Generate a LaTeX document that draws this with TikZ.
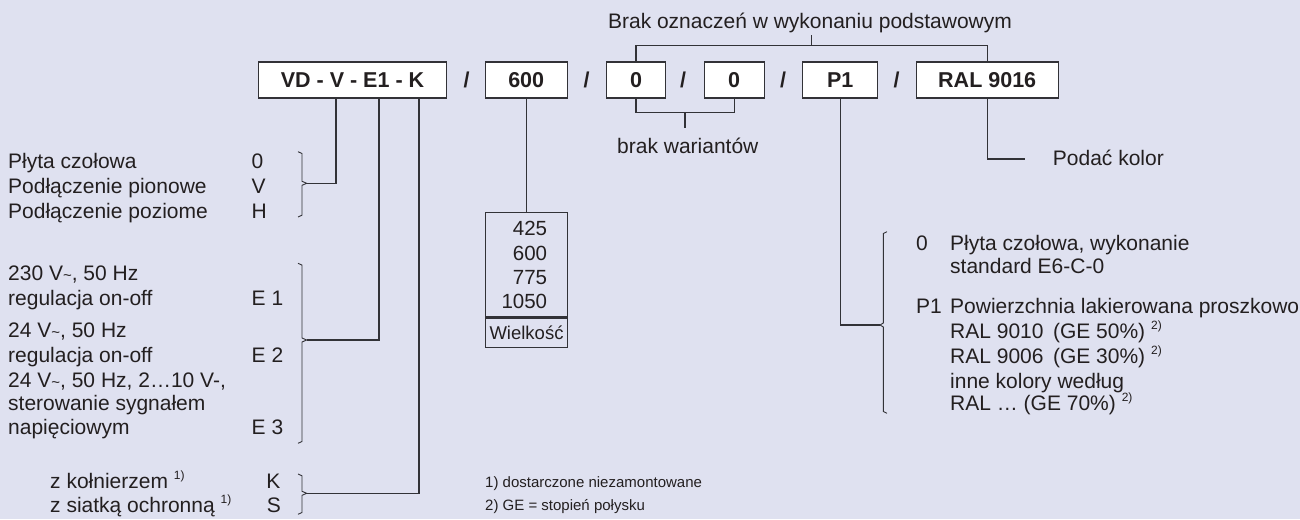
\documentclass[tikz,border=0pt]{standalone}
\usepackage{fontspec}
\setmainfont{Liberation Sans}
\definecolor{bg}{RGB}{223,225,240}
\definecolor{ink}{RGB}{35,31,32}
\definecolor{ln}{RGB}{50,50,55}
\newcommand\supx[1]{\raisebox{0.42em}{\fontsize{12}{12}\selectfont #1}}
\newcommand\tld{{\fontsize{15}{15}\selectfont\textasciitilde}}
\begin{document}
\begin{tikzpicture}[x=1pt,y=-1pt,
  codebox/.style={draw=ln, line width=1.1pt, fill=white, minimum height=36pt, inner sep=0pt, font=\fontsize{21.5}{24}\selectfont\bfseries, text=ink},
  slash/.style={font=\fontsize{21.5}{24}\selectfont\bfseries, text=ink, inner sep=0pt},
  txt/.style={anchor=base west, inner sep=0pt, font=\fontsize{21}{25}\selectfont, text=ink},
  txte/.style={anchor=base east, inner sep=0pt, font=\fontsize{21}{25}\selectfont, text=ink},
  num/.style={anchor=base east, inner sep=0pt, font=\fontsize{20.5}{24}\selectfont, text=ink},
  foot/.style={anchor=base west, inner sep=0pt, font=\fontsize{15}{18}\selectfont, text=ink},
  conn/.style={draw=ln, line width=1.1pt},
]
\fill[bg] (0,0) rectangle (1300,519);
\useasboundingbox (0,0) rectangle (1300,519);

% code row
\node[codebox, minimum width=188.4pt] (vd) at (352.5,80) {VD - V - E1 - K};
\node[slash] (s1) at (466.7,80) {/};
\node[codebox, minimum width=82.3pt] (n600) at (526.2,80) {600};
\node[slash] (s2) at (586.7,80) {/};
\node[codebox, minimum width=59pt] (za) at (636,80) {0};
\node[slash] (s3) at (683,80) {/};
\node[codebox, minimum width=59.7pt] (zb) at (734.2,80) {0};
\node[slash] (s4) at (783,80) {/};
\node[codebox, minimum width=75pt] (p1) at (840.2,80) {P1};
\node[slash] (s5) at (896.7,80) {/};
\node[codebox, minimum width=142.3pt] (ral) at (987.2,80) {RAL 9016};

% top label
\node[anchor=base, inner sep=0pt, font=\fontsize{21}{25}\selectfont, text=ink] (brak) at (810,28.3) {Brak oznaczeń w wykonaniu podstawowym};
\coordinate (topT) at (811.7,45.5);
\coordinate (brakB) at (811.7,35);
\draw[conn] (za.north) |- (topT) -| (ral.north);
\draw[conn] (topT) -- (brakB);

% brak wariantow
\coordinate (botT) at (685,112.7);
\coordinate (wariT) at (685,128.3);
\draw[conn] (za.south) |- (botT) -| (zb.south);
\draw[conn] (botT) -- (wariT);
\node[txt] (wari) at (617,153) {brak wariantów};

% Podac kolor
\coordinate (kolE) at (1025,159);
\draw[conn] (ral.south) |- (kolE);
\node[txt] (kol) at (1052.7,165.3) {Podać kolor};

% size box
\node[draw=ln, line width=1.1pt, minimum width=82.3pt, minimum height=134.6pt, inner sep=0pt] (size) at (526.2,280) {};
\coordinate (sepL) at (485,317.3);
\coordinate (sepR) at (567.3,317.3);
\draw[ln, line width=2.6pt] (sepL) -- (sepR);
\draw[conn] (n600.south) -- (size.north);
\node[num] (v1) at (547.3,235) {425};
\node[num] (v2) at (547.3,260) {600};
\node[num] (v3) at (547.3,284) {775};
\node[num] (v4) at (547.3,308.3) {1050};
\node[inner sep=0pt, font=\fontsize{18.5}{20}\selectfont, text=ink] (wlk) at (526.5,333) {Wielkość};

% left column
\node[txt] (l1) at (8,168.5) {Płyta czołowa};
\node[txt] (l2) at (8,193.5) {Podłączenie pionowe};
\node[txt] (l3) at (8,218) {Podłączenie poziome};
\node[txt] (c1) at (251.5,168.5) {0};
\node[txt] (c2) at (251.5,193.5) {V};
\node[txt] (c3) at (251.5,218) {H};

\node[txt] (e1a) at (8,280.3) {230 V\tld, 50 Hz};
\node[txt] (e1b) at (8,305.3) {regulacja on-off};
\node[txt] (e2a) at (8,337) {24 V\tld, 50 Hz};
\node[txt] (e2b) at (8,362) {regulacja on-off};
\node[txt] (e3a) at (8,387) {24 V\tld, 50 Hz, 2…10 V-,};
\node[txt] (e3b) at (8,410.3) {sterowanie sygnałem};
\node[txt] (e3c) at (8,434.7) {napięciowym};
\node[txt] (ce1) at (251.5,305.3) {E 1};
\node[txt] (ce2) at (251.5,362) {E 2};
\node[txt] (ce3) at (251.5,434.7) {E 3};

\node[txt] (k1) at (50,488) {z kołnierzem \supx{1)}};
\node[txt] (k2) at (50,512) {z siatką ochronną \supx{1)}};
\node[txte] (ck) at (280.5,488) {K};
\node[txte] (cs) at (281,512) {S};

% left brackets
\coordinate (bA) at (306.7,183.3);
\coordinate (bE) at (306.7,340);
\coordinate (bK) at (306.7,493.3);
\draw[conn, line width=0.9pt] (298,151.7) -- (302,153.5) -- (302,181.3) -- (bA) -- (302,185.3) -- (302,215.2) -- (298,217);
\draw[conn, line width=0.9pt] (298,263.3) -- (302,265.1) -- (302,338) -- (bE) -- (302,342) -- (302,441.5) -- (298,443.3);
\draw[conn, line width=0.9pt] (298,474) -- (302,475.8) -- (302,491.3) -- (bK) -- (302,495.3) -- (302,512.5) -- (298,514.3);

\coordinate (vdA) at (336,98);
\coordinate (vdE) at (379,98);
\coordinate (vdK) at (419,98);
\draw[conn] (bA) -| (vdA);
\draw[conn] (bE) -| (vdE);
\draw[conn] (bK) -| (vdK);

% right column
\coordinate (bP) at (880,325);
\draw[conn, line width=0.9pt] (887,231.7) -- (883.3,233.5) -- (883.3,323) -- (bP) -- (883.3,327) -- (883.3,411.5) -- (887,413.3);
\draw[conn] (p1.south) |- (bP);

\node[txt] (r0) at (916,250.3) {0};
\node[txt] (r1) at (950,250.3) {Płyta czołowa, wykonanie};
\node[txt] (r2) at (950,273.7) {standard E6-C-0};
\node[txt] (rp) at (916,313.7) {P1};
\node[txt] (r3) at (950,313.7) {Powierzchnia lakierowana proszkowo};
\node[txt] (r4) at (950,338.7) {RAL 9010\hspace{0.45em}(GE 50\%) \supx{2)}};
\node[txt] (r5) at (950,363) {RAL 9006\hspace{0.45em}(GE 30\%) \supx{2)}};
\node[txt] (r6) at (950,388.7) {inne kolory według};
\node[txt] (r7) at (950,410.3) {RAL … (GE 70\%) \supx{2)}};

% footnotes
\node[foot] (f1) at (485,487.7) {1) dostarczone niezamontowane};
\node[foot] (f2) at (485,510) {2) GE = stopień połysku};
\end{tikzpicture}
\end{document}
